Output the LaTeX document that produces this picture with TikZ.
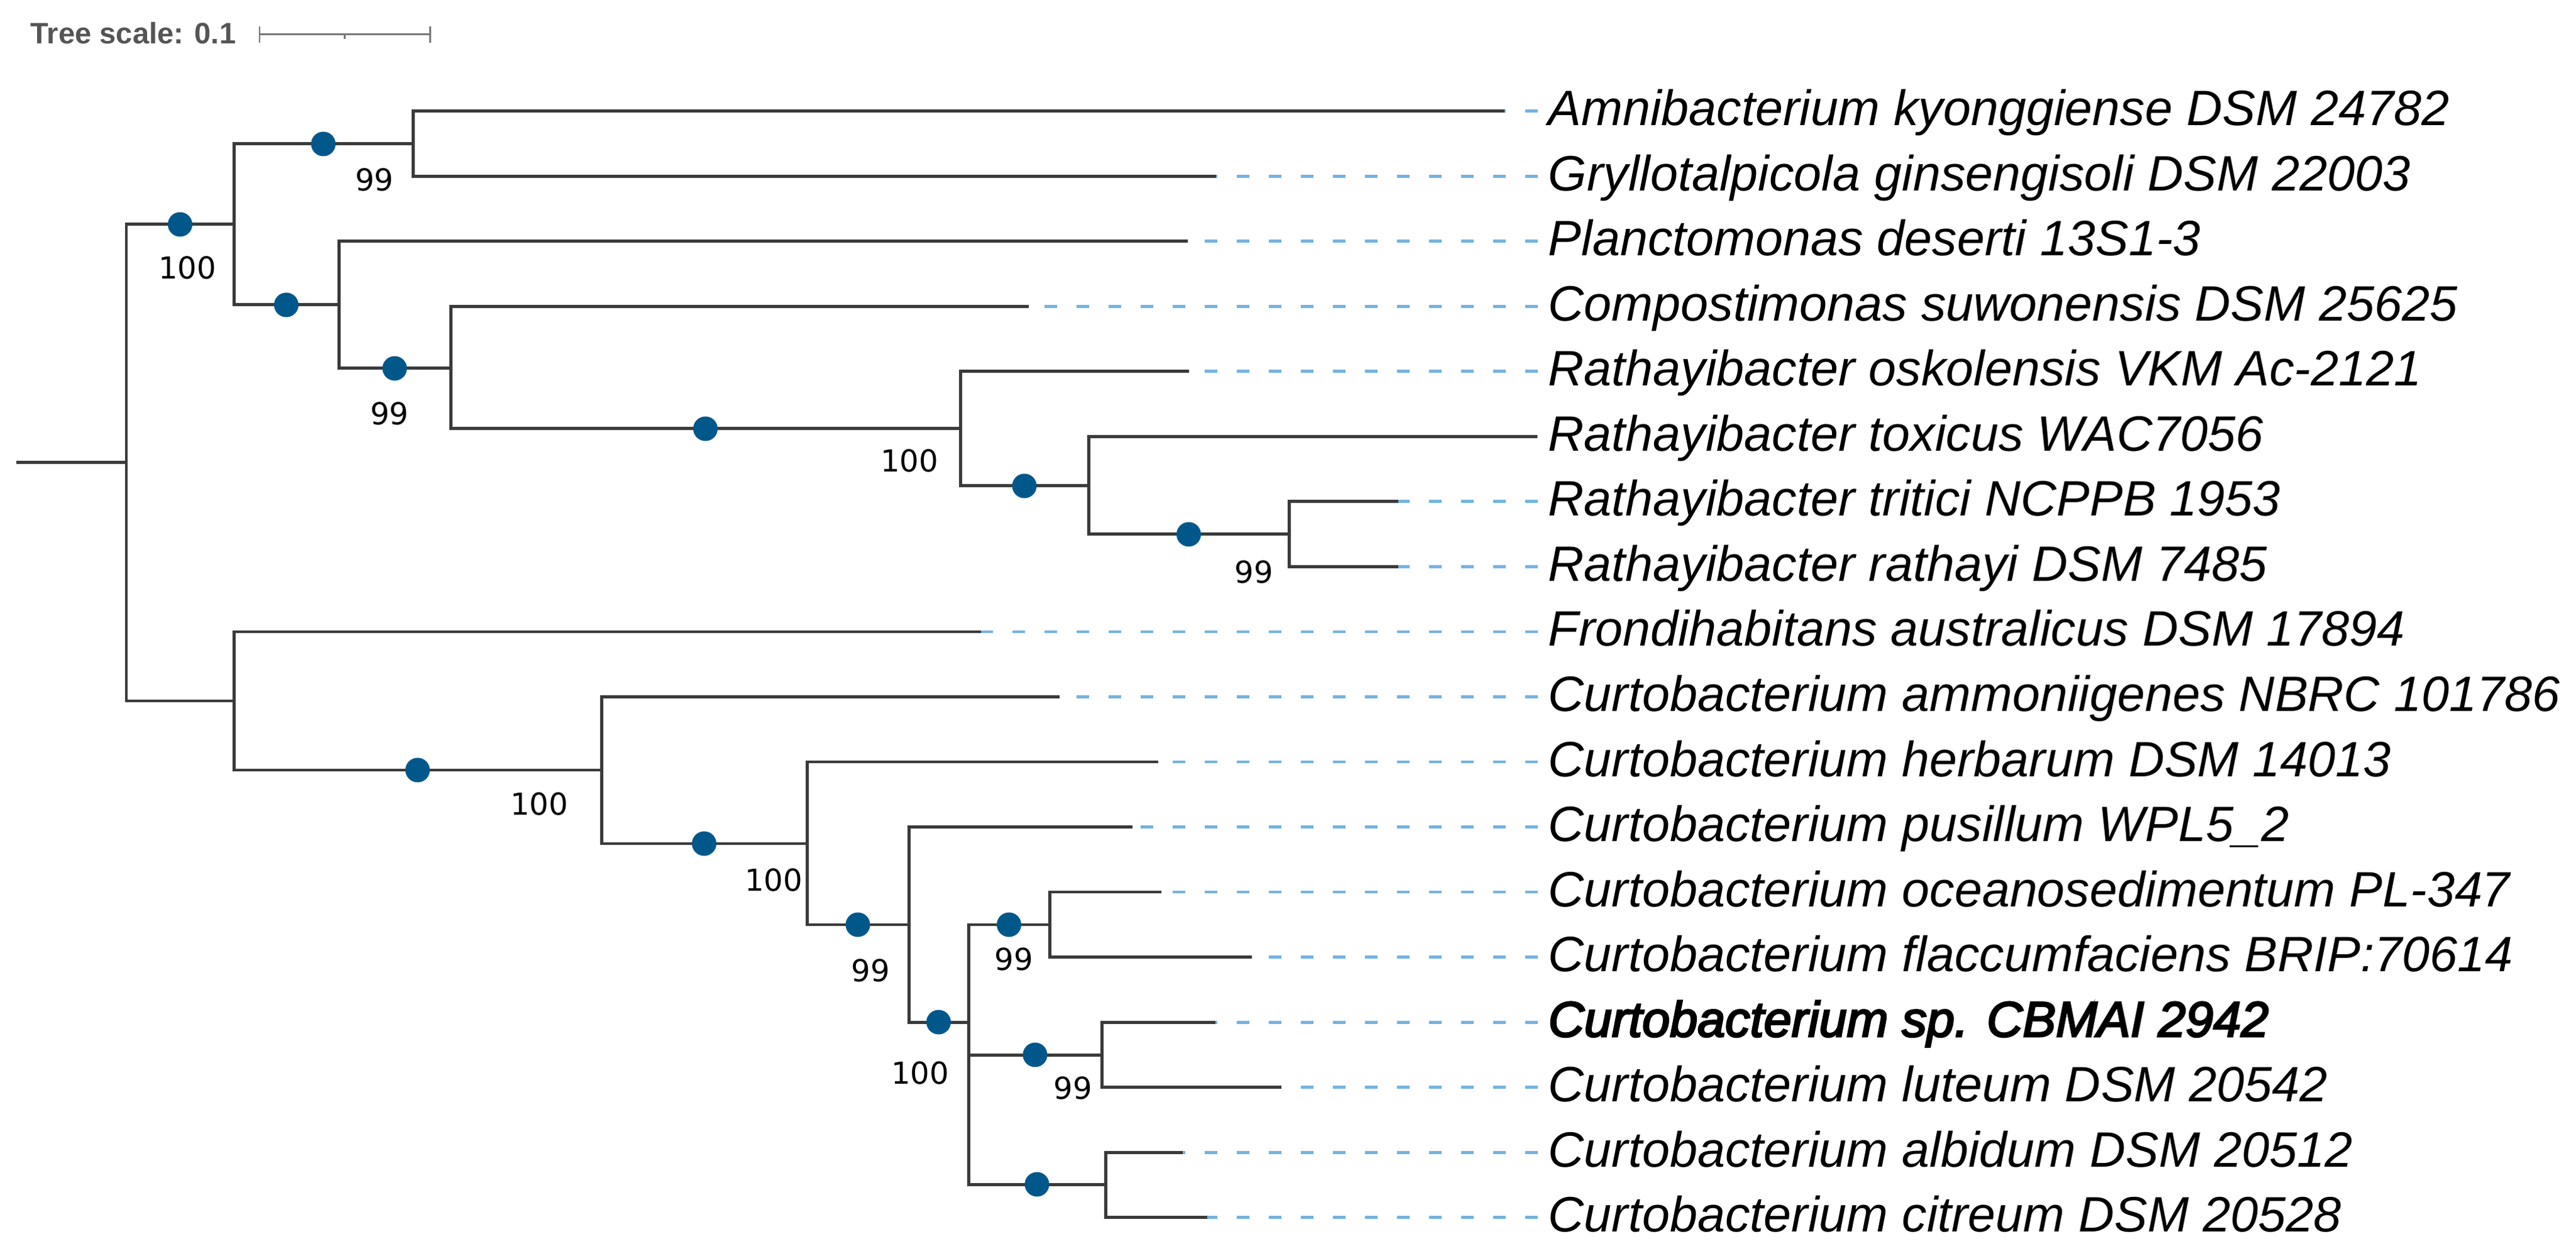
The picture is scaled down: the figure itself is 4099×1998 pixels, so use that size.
\documentclass[tikz,border=0pt]{standalone}
\usepackage{fontspec}
\setmainfont{Liberation Sans}
\newfontfamily\bsfont{DejaVu Sans}
\newfontfamily\heavytaxon{Liberation Sans}[ItalicFeatures={FakeBold=3.5}]
\usetikzlibrary{positioning}
\definecolor{branchgray}{HTML}{3A3A3A}
\definecolor{dotblue}{HTML}{00588A}
\definecolor{guideblue}{HTML}{74B3E0}
\definecolor{scalegray}{HTML}{555555}
\tikzset{
  branch/.style={draw=branchgray,line width=1.42pt},
  guide/.style={draw=guideblue,line width=1.42pt,dash pattern=on 0.2cm off 0.31cm},
  bsdot/.style={shape=circle,fill=dotblue,minimum size=0.39cm,inner sep=0},
  bslabel/.style={font=\bsfont\fontsize{13.7}{16}\selectfont,inner sep=0},
  taxon/.style={font=\itshape\fontsize{22.5}{27}\selectfont,anchor=base west,inner sep=0},
  scalebar/.style={draw=scalegray!80,line width=0.85pt}
}

\begin{document}
\begin{tikzpicture}[x=0.01cm,y=-0.01cm]
  \useasboundingbox (0,0) rectangle (4099,1998);
  % tree scale
  \node[font=\bfseries\fontsize{13.4}{15}\selectfont,text=scalegray,anchor=base west,inner sep=0] (scaletxt) at (48,70) {Tree scale: 0.1};
  \coordinate (s0) at (413,55);
  \coordinate (s1) at (684,55);
  \coordinate (sm) at (548.5,55);
  \draw[scalebar] (s0) -- (s1);
  \draw[scalebar] (s0) ++(0,-13) -- ++(0,26);
  \draw[scalebar] (s1) ++(0,-13) -- ++(0,26);
  \draw[scalebar] (sm) -- ++(0,7);
  % leaves
  \foreach \i/\xe/\txt in {
      1/2394/{Amnibacterium kyonggiense DSM 24782},
      2/1935/{Gryllotalpicola ginsengisoli DSM 22003},
      3/1890/{Planctomonas deserti 13S1-3},
      4/1637/{Compostimonas suwonensis DSM 25625},
      5/1892/{Rathayibacter oskolensis VKM Ac-2121},
      6/2446/{Rathayibacter toxicus WAC7056},
      7/2225/{Rathayibacter tritici NCPPB 1953},
      8/2225/{Rathayibacter rathayi DSM 7485},
      9/1561/{Frondihabitans australicus DSM 17894},
      10/1686/{Curtobacterium ammoniigenes NBRC 101786},
      11/1843/{Curtobacterium herbarum DSM 14013},
      12/1802/{Curtobacterium pusillum WPL5\_2},
      13/1848/{Curtobacterium oceanosedimentum PL-347},
      14/1992/{Curtobacterium flaccumfaciens BRIP:70614},
      15/1934/{\heavytaxon\itshape Curtobacterium sp. CBMAI 2942},
      16/2039/{Curtobacterium luteum DSM 20542},
      17/1882/{Curtobacterium albidum DSM 20512},
      18/1921/{Curtobacterium citreum DSM 20528}}{
    \pgfmathsetmacro{\yy}{177+(\i-1)*103.5}
    \coordinate (t\i) at (\xe,\yy);
    \coordinate (g\i) at (2447,\yy);
    \node[taxon] (n\i) at (2463,\yy+23) {\txt};
    \draw[guide] (g\i) -- (t\i);
  }
  % internal nodes
  \coordinate (root) at (26,736);
  \coordinate (R) at (201,736);
  \coordinate (A) at (372,357);
  \coordinate (P) at (657,229);
  \coordinate (C) at (539,485);
  \coordinate (D) at (717,586);
  \coordinate (E) at (1528,682);
  \coordinate (F) at (1732,773);
  \coordinate (G) at (2051,850);
  \coordinate (B) at (372,1115);
  \coordinate (H) at (957,1225);
  \coordinate (I) at (1284,1342);
  \coordinate (J) at (1446,1471);
  \coordinate (K) at (1541,1626);
  \coordinate (L) at (1670,1471);
  \coordinate (M) at (1753,1678);
  \coordinate (N) at (1759,1884);
  \draw[branch] (root) -- (R);
  \foreach \p/\c in {R/B,P/t1,P/t2,C/t3,D/t4,E/t5,F/t6,G/t7,G/t8,B/t9,H/t10,
      I/t11,J/t12,L/t13,L/t14,M/t15,M/t16,N/t17,N/t18}
    \draw[branch] (\p) |- (\c);
  \foreach \p/\c in {R/A,A/P,A/C,C/D,D/E,E/F,F/G,B/H,H/I,I/J,J/K,K/L,K/M,K/N}
    \draw[branch] (\p) |- node[bsdot,pos=.75] (d\c) {} (\c);
  % bootstrap values
  \foreach \n/\v/\x/\y in {A/100/298/426, P/99/596/286, D/99/620/658,
      E/100/1447/733, G/99/1995/910, H/100/858/1279, I/100/1231/1400,
      J/99/1385/1544, K/100/1464/1707, L/99/1613/1526, M/99/1707/1731}
    \node[bslabel] (bs\n) at (\x,\y) {\v};
\end{tikzpicture}
\end{document}
